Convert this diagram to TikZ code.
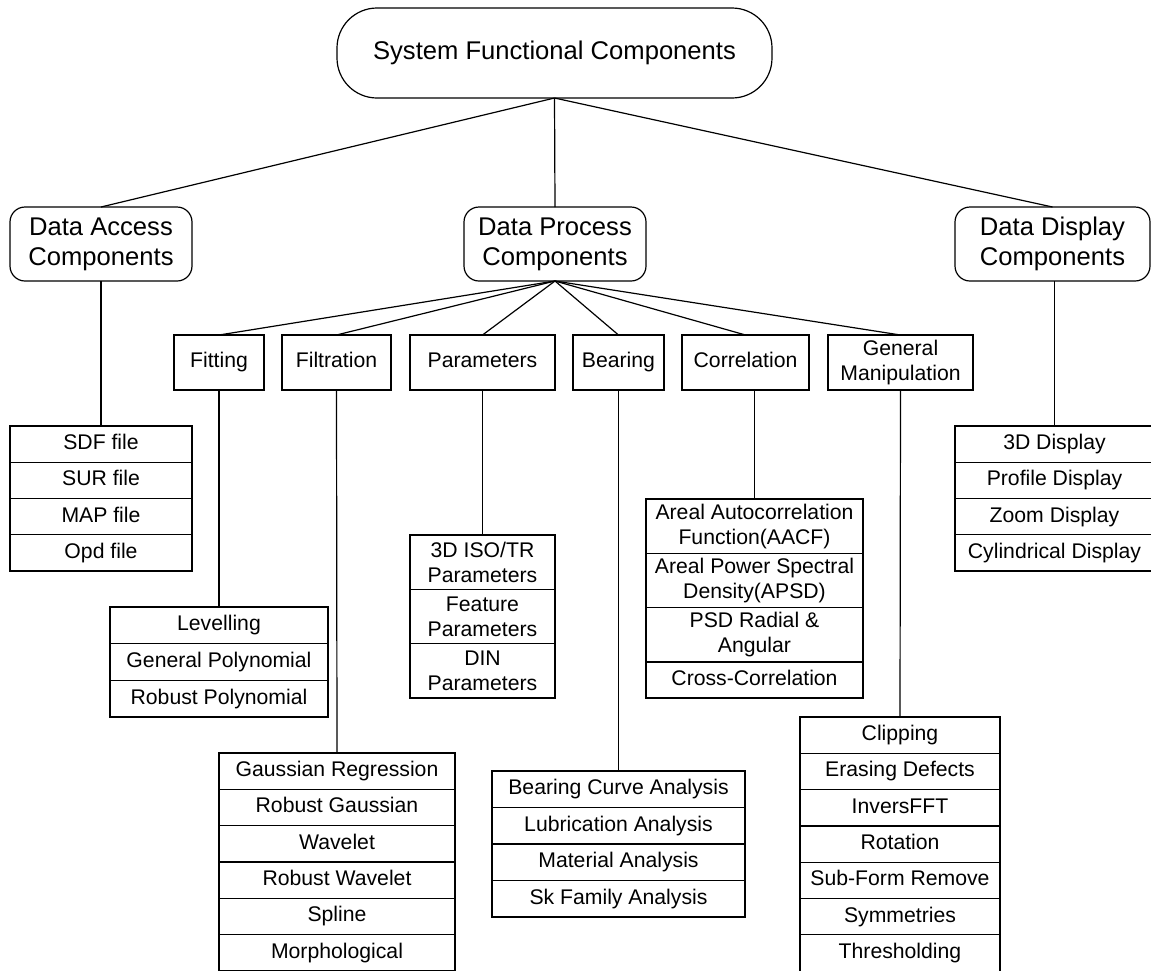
\documentclass[tikz,border=0pt]{standalone}
\usepackage{fontspec}
\setmainfont{Liberation Sans}
\begin{document}
\begin{tikzpicture}[x=1pt,y=-1pt, line width=1.2pt,
  bigfont/.style={font=\fontsize{25.6}{30}\selectfont},
  smallfont/.style={font=\fontsize{21.2}{25}\selectfont},
  oneline/.style={text height=15.3pt, text depth=4.5pt},
  topbox/.style={draw, rectangle, rounded corners=40pt, inner sep=0pt, outer sep=0pt, anchor=north west, bigfont, text height=18.5pt, text depth=5.4pt},
  lvlone/.style={draw, rectangle, rounded corners=15pt, inner sep=0pt, outer sep=0pt, anchor=north west, bigfont, align=center, minimum height=74pt},
  lvltwo/.style={draw, rectangle, inner sep=0pt, outer sep=0pt, anchor=north west, smallfont, align=center, minimum height=55pt},
  firstcell/.style={draw, rectangle, inner sep=0pt, outer sep=0pt, anchor=north west, smallfont, align=center},
  cell/.style={draw, rectangle, inner sep=0pt, outer sep=0pt, anchor=north, smallfont, align=center},
  link/.style={draw, line width=1.2pt}
]
\useasboundingbox (0,0) rectangle (1151,970);

% top
\node[topbox, minimum width=435pt, minimum height=90pt] (sys) at (337,8) {System Functional Components};

% level one
\node[lvlone, minimum width=182pt] (dac) at (10,207) {Data Access\\Components};
\node[lvlone, minimum width=182pt] (dpc) at (464,207) {Data Process\\Components};
\node[lvlone, minimum width=195pt] (ddc) at (955,207) {Data Display\\Components};

\draw[link] (sys.south) -- (dac.north);
\draw[link] (sys.south) -- (dpc.north);
\draw[link] (sys.south) -- (ddc.north);

% level two
\node[lvltwo, oneline, minimum width=90pt] (fit) at (174,335) {Fitting};
\node[lvltwo, oneline, minimum width=109pt] (filt) at (282,335) {Filtration};
\node[lvltwo, oneline, minimum width=145pt] (par) at (410,335) {Parameters};
\node[lvltwo, oneline, minimum width=91pt] (bear) at (573,335) {Bearing};
\node[lvltwo, oneline, minimum width=127pt] (corr) at (682,335) {Correlation};
\node[lvltwo, minimum width=145pt] (gm) at (828,335) {General\\Manipulation};

\foreach \n in {fit,filt,par,bear,corr,gm} \draw[link] (dpc.south) -- (\n.north);

% data access list
\begin{scope}[every node/.append style={oneline, minimum width=182pt, minimum height=36.25pt}]
\node[firstcell] (sdf) at (10,426) {SDF file};
\node[cell] (sur) at (sdf.south) {SUR file};
\node[cell] (map) at (sur.south) {MAP file};
\node[cell] (opd) at (map.south) {Opd file};
\end{scope}
\draw[link] (dac.south) -- (sdf.north);

% fitting list
\begin{scope}[every node/.append style={oneline, minimum width=218pt, minimum height=36.67pt}]
\node[firstcell] (lev) at (110,607) {Levelling};
\node[cell] (gpoly) at (lev.south) {General Polynomial};
\node[cell] (rpoly) at (gpoly.south) {Robust Polynomial};
\end{scope}
\draw[link] (fit.south) -- (lev.north);

% parameters list
\begin{scope}[every node/.append style={minimum width=145pt, minimum height=54.3pt}]
\node[firstcell] (iso) at (410,535) {3D ISO/TR\\Parameters};
\node[cell] (feat) at (iso.south) {Feature\\Parameters};
\node[cell] (din) at (feat.south) {DIN\\Parameters};
\end{scope}
\draw[link] (par.south) -- (iso.north);

% filtration list
\begin{scope}[every node/.append style={oneline, minimum width=236pt, minimum height=36.3pt}]
\node[firstcell] (gr) at (219,753) {Gaussian Regression};
\node[cell] (rg) at (gr.south) {Robust Gaussian};
\node[cell] (wav) at (rg.south) {Wavelet};
\node[cell] (rwav) at (wav.south) {Robust Wavelet};
\node[cell] (spl) at (rwav.south) {Spline};
\node[cell] (morph) at (spl.south) {Morphological};
\end{scope}
\draw[link] (filt.south) -- (gr.north);

% bearing list
\begin{scope}[every node/.append style={oneline, minimum width=253pt, minimum height=36.5pt}]
\node[firstcell] (bca) at (492,771) {Bearing Curve Analysis};
\node[cell] (lub) at (bca.south) {Lubrication Analysis};
\node[cell] (mat) at (lub.south) {Material Analysis};
\node[cell] (sk) at (mat.south) {Sk Family Analysis};
\end{scope}
\draw[link] (bear.south) -- (bca.north);

% correlation list
\begin{scope}[every node/.append style={minimum width=217pt, minimum height=54.3pt}]
\node[firstcell] (aacf) at (646,499) {Areal Autocorrelation\\Function(AACF)};
\node[cell] (apsd) at (aacf.south) {Areal Power Spectral\\Density(APSD)};
\node[cell] (psd) at (apsd.south) {PSD Radial \&\\Angular};
\node[cell, oneline, minimum height=36pt] (cc) at (psd.south) {Cross-Correlation};
\end{scope}
\draw[link] (aacf.north |- corr.south) -- (aacf.north);

% general manipulation list
\begin{scope}[every node/.append style={oneline, minimum width=200pt, minimum height=36.3pt}]
\node[firstcell] (clip) at (800,717) {Clipping};
\node[cell] (erase) at (clip.south) {Erasing Defects};
\node[cell] (ifft) at (erase.south) {InversFFT};
\node[cell] (rot) at (ifft.south) {Rotation};
\node[cell] (sub) at (rot.south) {Sub-Form Remove};
\node[cell] (sym) at (sub.south) {Symmetries};
\node[cell] (thr) at (sym.south) {Thresholding};
\end{scope}
\draw[link] (gm.south) -- (clip.north);

% display list
\begin{scope}[every node/.append style={oneline, minimum width=199pt, minimum height=36.25pt}]
\node[firstcell] (d3) at (955,426) {3D Display};
\node[cell] (prof) at (d3.south) {Profile Display};
\node[cell] (zoom) at (prof.south) {Zoom Display};
\node[cell] (cyl) at (zoom.south) {Cylindrical Display};
\end{scope}
\draw[link] (d3.north |- ddc.south) -- (d3.north);
\end{tikzpicture}
\end{document}
